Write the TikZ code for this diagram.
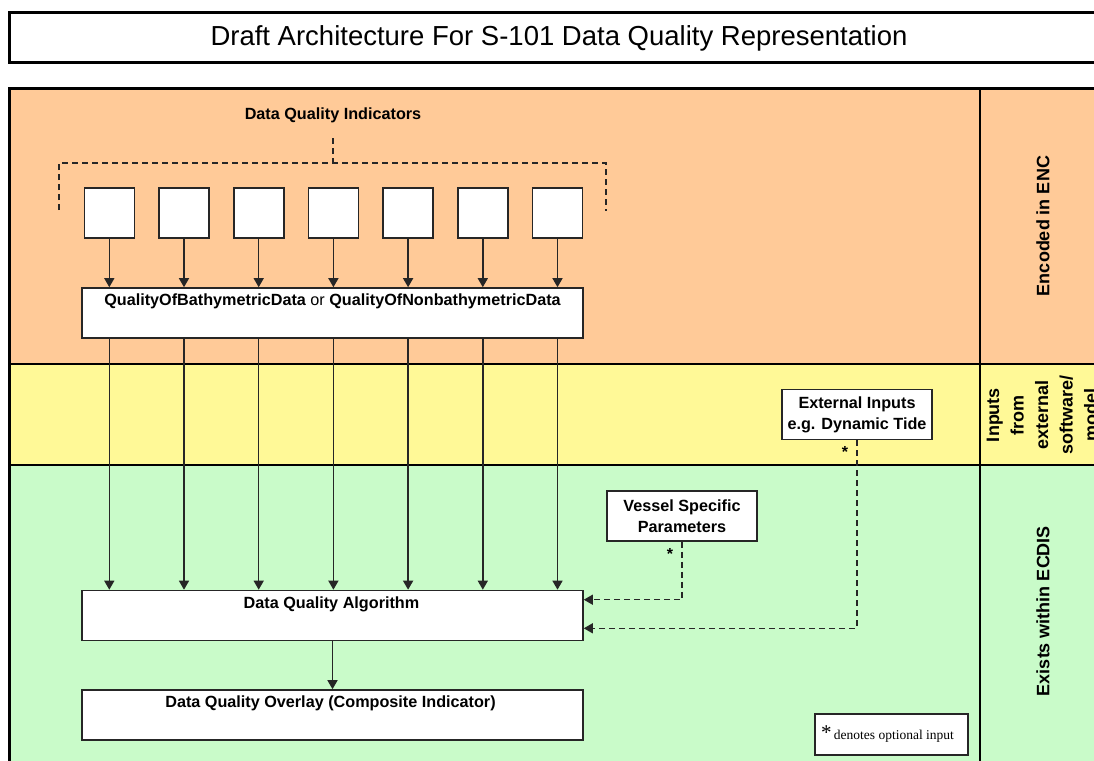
\documentclass[tikz,border=0pt]{standalone}
\usepackage{fontspec}
\setmainfont{Liberation Sans}
\newfontfamily\legendfont{Liberation Serif}
\usetikzlibrary{arrows.meta,calc}

\definecolor{encband}{HTML}{FFCA98}
\definecolor{extband}{HTML}{FFF997}
\definecolor{ecdisband}{HTML}{C9FBC9}
\definecolor{edge}{HTML}{262626}

\begin{document}
\begin{tikzpicture}[x=1pt,y=-1pt,
  frame/.style={draw=edge,line width=1.6pt,fill=white,inner sep=0pt},
  widebox/.style={frame,minimum width=501pt,minimum height=50pt},
  dqibox/.style={frame,minimum width=50pt,minimum height=50pt},
  notebox/.style={frame,minimum width=150pt,minimum height=50pt,
    font=\fontsize{16.2}{21}\selectfont\bfseries,align=center},
  lbl/.style={font=\fontsize{16.2}{21}\selectfont\bfseries,inner sep=0pt},
  side/.style={font=\fontsize{18}{24.5}\selectfont\bfseries,inner sep=0pt,
    align=center,rotate=90},
  flow/.style={draw=edge,line width=1.4pt,-{Triangle[width=10pt,length=9pt]}},
  opt/.style={flow,dash pattern=on 6pt off 4pt},
  brace/.style={draw=edge,line width=1.4pt,dash pattern=on 6pt off 4pt},
  star/.style={font=\fontsize{16}{16}\selectfont\bfseries,inner sep=0pt},
]
\useasboundingbox (0,0) rectangle (1094,760);
\clip (0,0) rectangle (1094,760);
\fill[white] (0,0) rectangle (1094,760);

% title bar
\draw[draw=black,line width=3pt,fill=white] (9,12.5) rectangle (1130,62.5);
\node[inner sep=0pt,font=\fontsize{27.5}{33}\selectfont] (title) at (559,38)
  {Draft Architecture For S-101 Data Quality Representation};

% swim lanes
\fill[encband]   (9,88)  rectangle (1130,364);
\fill[extband]   (9,364) rectangle (1130,465);
\fill[ecdisband] (9,465) rectangle (1130,800);
\draw[black,line width=2.5pt] (9,364) -- (1130,364);
\draw[black,line width=2.5pt] (9,465) -- (1130,465);
\draw[black,line width=2pt] (980,88) -- (980,800);
\draw[black,line width=3pt,line join=miter] (9,800) -- (9,88) -- (1130,88);

% lane captions
\node[side] (encnote) at (1043,226) {Encoded in ENC};
\node[side] (extnote) at (1042,415) {Inputs\\from\\external\\software/\\model};
\node[side] (ecdisnote) at (1043,611) {Exists within ECDIS};

% data quality indicators
\node[lbl,anchor=base] (dqi) at (333,119) {Data Quality Indicators};
\coordinate (brTop) at (333,138);
\coordinate (brMid) at (333,163);
\coordinate (brL)   at (59,163);
\coordinate (brLe)  at (59,210);
\coordinate (brR)   at (606,163);
\coordinate (brRe)  at (606,211);
\path[brace] (brLe) -- (brL) -- (brR) -- (brRe);
\path[brace] (brTop) -- (brMid);

\foreach \i in {1,...,7}
  \node[dqibox] (ind\i) at ({109.3+74.7*(\i-1)},213) {};

% quality attribute
\node[widebox] (qual) at (332.5,313) {};
\node[lbl,anchor=base] (qualtext) at (332.5,305.6)
  {QualityOfBathymetricData {\mdseries or} QualityOfNonbathymetricData};

% algorithm and overlay
\node[widebox] (algo) at (332.5,615.5) {};
\node[lbl,anchor=base] (algotext) at (331.5,608.5) {Data Quality Algorithm};
\node[widebox] (overlay) at (332.5,715) {};
\node[lbl,anchor=base] (overlaytext) at (330.5,707) {Data Quality Overlay (Composite Indicator)};

\foreach \i in {1,...,7} {
  \draw[flow] (ind\i.south) -- (ind\i |- qual.north);
  \draw[flow] (ind\i |- qual.south) -- (ind\i |- algo.north);
}
\draw[flow] (algo.south) -- (overlay.north);

% optional inputs
\node[notebox] (ext) at (857,414.5) {External Inputs\\e.g. Dynamic Tide};
\node[notebox] (vessel) at (682,516) {Vessel Specific\\Parameters};
\node[star] (extstar) at (845,452) {*};
\node[star] (vesselstar) at (670,554) {*};
\coordinate (vesselIn) at ($(algo.north east)+(0,10)$);
\coordinate (extIn) at ($(algo.south east)+(0,-13)$);
\draw[opt] (vessel.south) |- (vesselIn);
\draw[opt] (ext.south) |- (extIn);

% legend
\node[frame,minimum width=153pt,minimum height=41pt] (legend) at (891.5,734.5) {};
\node[anchor=base west,inner sep=0pt,font=\legendfont\fontsize{13.5}{16}\selectfont]
  (legendtext) at (821,739)
  {{\fontsize{21}{21}\selectfont*}\,denotes optional input};
\end{tikzpicture}
\end{document}
